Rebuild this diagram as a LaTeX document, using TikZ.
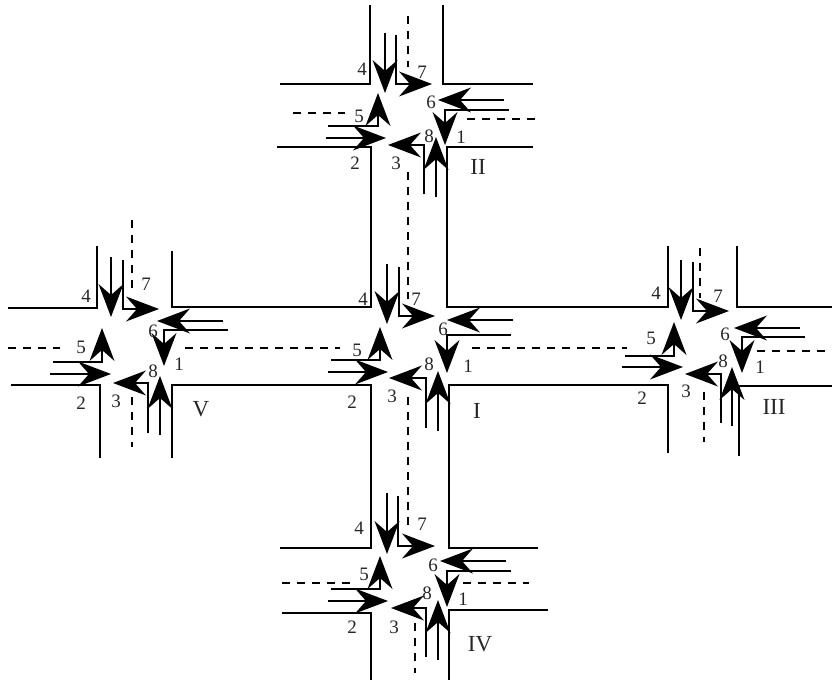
\documentclass[tikz,border=0pt]{standalone}
\usepackage{fontspec}
\setmainfont{Liberation Serif}
\usetikzlibrary{arrows.meta}
\tikzset{
  x=1pt,y=-1pt,
  road/.style={line width=2.4pt,black},
  flow/.style={line width=2.2pt,black,-{Stealth[length=33pt,width=25pt,inset=11pt,line width=0pt]}},
  lane/.style={line width=2.3pt,black,dash pattern=on 8pt off 7pt},
  num/.style={font=\fontsize{19}{21}\selectfont,text=black!85,inner sep=0pt},
  roman/.style={font=\fontsize{23}{25}\selectfont,text=black!85,inner sep=0pt}
}
\begin{document}
\begin{tikzpicture}
\useasboundingbox (0,0) rectangle (832,682);
% road edges
\draw[road] (370,5) -- (370,84) -- (280,84);
\draw[road] (443,5) -- (443,84) -- (533,84);
\draw[road] (277,147) -- (371,147) -- (371,307) -- (172,307) -- (172,251);
\draw[road] (533,147) -- (447,147) -- (447,307) -- (668,307) -- (668,246);
\draw[road] (97,246) -- (97,308) -- (8,308);
\draw[road] (11,385) -- (100,385) -- (100,458);
\draw[road] (172,458) -- (172,385) -- (371,385) -- (371,548) -- (280,548);
\draw[road] (668,453) -- (668,385) -- (449,385) -- (449,548) -- (538,548);
\draw[road] (737,246) -- (737,307) -- (832,307);
\draw[road] (739,456) -- (739,386) -- (832,386);
\draw[road] (282,613) -- (371,613) -- (371,680);
\draw[road] (548,610) -- (449,610) -- (449,680);
% dashed lane lines
\draw[lane] (408,16) -- (408,67);
\draw[lane] (408,172) -- (408,299);
\draw[lane] (408,397) -- (408,530);
\draw[lane] (415,623) -- (415,673);
\draw[lane] (293,113) -- (345,113);
\draw[lane] (467,119) -- (538,119);
\draw[lane] (8,348) -- (60,348);
\draw[lane] (185,348) -- (340,348);
\draw[lane] (472,348) -- (627,348);
\draw[lane] (757,351) -- (832,351);
\draw[lane] (700,248) -- (700,298);
\draw[lane] (704,392) -- (704,442);
\draw[lane] (132,220) -- (132,292);
\draw[lane] (132,397) -- (132,447);
\draw[lane] (282,583) -- (355,583);
\draw[lane] (463,583) -- (529,583);
% junction I
\draw[flow] (387,264) -- (387,324);
\draw[flow] (399,267) -- (399,316) -- (435,316);
\draw[flow] (513,320) -- (447,320);
\draw[flow] (511,335) -- (447,335) -- (447,373);
\draw[flow] (438,431) -- (438,371);
\draw[flow] (426,428) -- (426,378) -- (389,378);
\draw[flow] (328,372) -- (388,372);
\draw[flow] (331,360) -- (380,360) -- (380,327);
\node[num] (i4) at (363,299) {4};
\node[num] (i7) at (416,299) {7};
\node[num] (i6) at (443,329) {6};
\node[num] (i5) at (357,350) {5};
\node[num] (i8) at (429,364) {8};
\node[num] (i1) at (468,366) {1};
\node[num] (i2) at (352,402) {2};
\node[num] (i3) at (392,396) {3};
\node[roman] (iname) at (477,411) {I};
% junction II
\draw[flow] (385,33) -- (385,93);
\draw[flow] (396,35) -- (396,84) -- (432,84);
\draw[flow] (504,100) -- (438,100);
\draw[flow] (509,110) -- (445,110) -- (445,145);
\draw[flow] (436,197) -- (436,137);
\draw[flow] (424,194) -- (424,145) -- (388,145);
\draw[flow] (326,138) -- (386,138);
\draw[flow] (328,126) -- (378,126) -- (378,93);
\node[num] (ii4) at (362,69) {4};
\node[num] (ii7) at (422,72) {7};
\node[num] (ii6) at (431,102) {6};
\node[num] (ii5) at (359,116) {5};
\node[num] (ii8) at (429,136) {8};
\node[num] (ii1) at (461,137) {1};
\node[num] (ii2) at (355,163) {2};
\node[num] (ii3) at (396,163) {3};
\node[roman] (iiname) at (478,167) {II};
% junction III
\draw[flow] (681,260) -- (681,320);
\draw[flow] (693,262) -- (693,311) -- (729,311);
\draw[flow] (800,328) -- (734,328);
\draw[flow] (805,337) -- (742,337) -- (742,373);
\draw[flow] (732,426) -- (732,367);
\draw[flow] (721,423) -- (721,374) -- (685,374);
\draw[flow] (622,367) -- (683,367);
\draw[flow] (625,356) -- (674,356) -- (674,322);
\node[num] (iii4) at (656,293) {4};
\node[num] (iii7) at (718,296) {7};
\node[num] (iii6) at (725,334) {6};
\node[num] (iii5) at (651,338) {5};
\node[num] (iii8) at (723,361) {8};
\node[num] (iii1) at (760,367) {1};
\node[num] (iii2) at (642,398) {2};
\node[num] (iii3) at (686,391) {3};
\node[roman] (iiiname) at (774,407) {III};
% junction IV
\draw[flow] (387,493) -- (387,554);
\draw[flow] (398,496) -- (398,546) -- (435,546);
\draw[flow] (506,561) -- (440,561);
\draw[flow] (511,571) -- (447,571) -- (447,607);
\draw[flow] (438,660) -- (438,600);
\draw[flow] (426,657) -- (426,608) -- (391,608);
\draw[flow] (328,601) -- (388,601);
\draw[flow] (331,589) -- (380,589) -- (380,556);
\node[num] (iv4) at (359,528) {4};
\node[num] (iv7) at (422,524) {7};
\node[num] (iv6) at (433,565) {6};
\node[num] (iv5) at (364,574) {5};
\node[num] (iv8) at (427,593) {8};
\node[num] (iv1) at (463,599) {1};
\node[num] (iv2) at (352,627) {2};
\node[num] (iv3) at (394,627) {3};
\node[roman] (ivname) at (480,644) {IV};
% junction V
\draw[flow] (111,257) -- (111,317);
\draw[flow] (123,260) -- (123,309) -- (159,309);
\draw[flow] (223,321) -- (157,321);
\draw[flow] (228,330) -- (164,330) -- (164,366);
\draw[flow] (160,435) -- (160,376);
\draw[flow] (148,433) -- (148,383) -- (113,383);
\draw[flow] (50,374) -- (111,374);
\draw[flow] (53,362) -- (102,362) -- (102,328);
\node[num] (v4) at (86,296) {4};
\node[num] (v7) at (146,284) {7};
\node[num] (v6) at (153,331) {6};
\node[num] (v5) at (81,347) {5};
\node[num] (v8) at (153,371) {8};
\node[num] (v1) at (179,364) {1};
\node[num] (v2) at (81,403) {2};
\node[num] (v3) at (116,401) {3};
\node[roman] (vname) at (201,409) {V};
\end{tikzpicture}
\end{document}
